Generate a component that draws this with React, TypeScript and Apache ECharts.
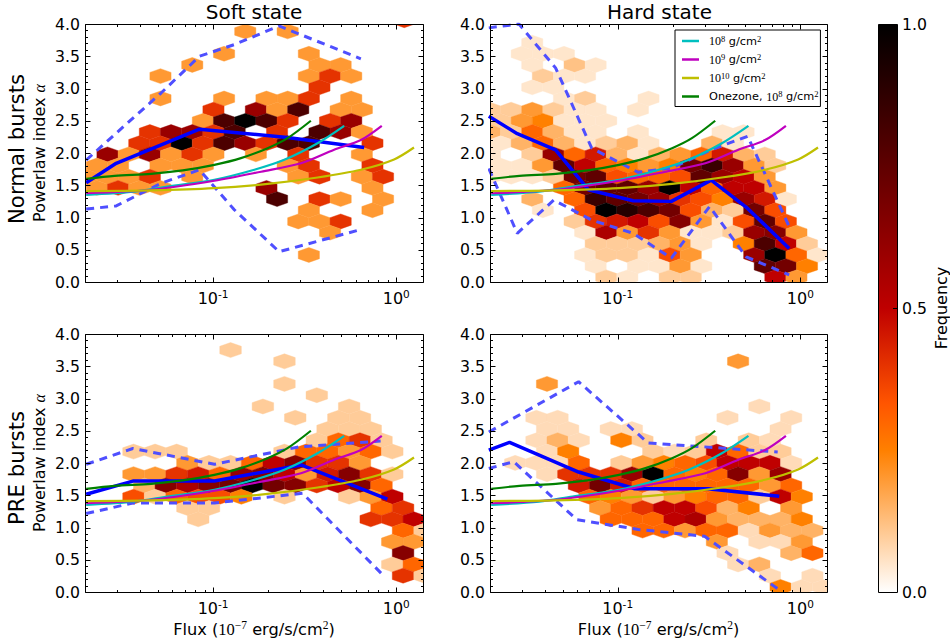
import React, { useEffect, useRef } from "react";
import * as echarts from "echarts";

// Hex bins: [column, row, frequency]
const softNormalHexes = [
  [15,20,.2],[19,20,.2],[30,21,.4],
  [13,18,.2],[21,18,.2],[10,17,.2],[22,17,.2],[24,17,.2],
  [7,16,.2],[21,16,.2],[23,16,.4],[25,16,.2],[22,15,.4],
  [7,14,.2],[13,14,.2],[17,14,.2],[19,14,.2],[21,14,.4],[25,14,.2],
  [12,13,.4],[16,13,.6],[18,13,.2],[20,13,.8],[24,13,.2],[26,13,.2],
  [11,12,.2],[13,12,.8],[15,12,1],[17,12,.8],[19,12,.4],[23,12,.4],[25,12,.6],
  [6,11,.4],[8,11,.6],[10,11,.6],[12,11,.4],[14,11,.8],[18,11,.4],[22,11,.8],[24,11,.6],[26,11,.2],
  [5,10,.4],[7,10,.4],[9,10,1],[11,10,.4],[13,10,.8],[15,10,.6],[17,10,.4],[19,10,.8],[21,10,.8],[27,10,.4],
  [2,9,.6],[4,9,.2],[6,9,.6],[8,9,.2],[10,9,.4],[12,9,.2],[16,9,.2],[20,9,.4],[26,9,.2],
  [1,8,.2],[3,8,.2],[7,8,.2],[9,8,.2],[11,8,.2],[19,8,.2],[21,8,.4],[27,8,.4],
  [0,7,.2],[2,7,.2],[4,7,.2],[6,7,.4],[10,7,.2],[20,7,.2],[22,7,.4],[26,7,.2],[28,7,.4],
  [1,6,.2],[3,6,.4],[5,6,.2],[7,6,.2],[17,6,.6],[27,6,.2],
  [18,5,.8],[22,5,.4],[24,5,.2],[28,5,.2],
  [21,4,.2],[27,4,.2],[20,3,.2],[22,3,.2],[24,3,.4],[23,2,.2],[21,0,.2],
];
const hardNormalHexes = [
  [4,19,.05],[3,18,.05],[5,18,.05],[7,18,.05],[4,17,.05],[8,17,.12],[10,17,.05],
  [5,16,.1],[7,16,.05],[9,16,.05],[4,15,.05],[6,15,.05],[7,14,.05],[9,14,.1],[15,14,.05],
  [0,13,.1],[2,13,.1],[4,13,.2],[6,13,.1],[8,13,.05],[10,13,.05],[14,13,.05],
  [1,12,.1],[3,12,.2],[5,12,.25],[7,12,.05],[9,12,.05],[11,12,.05],
  [0,11,.15],[2,11,.1],[4,11,.3],[6,11,.15],[8,11,.05],[10,11,.05],[14,11,.05],[22,11,.05],[24,11,.05],
  [1,10,.05],[3,10,.15],[5,10,.3],[7,10,.15],[9,10,.05],[11,10,.1],[13,10,.15],[15,10,.05],[21,10,.15],[23,10,.05],
  [0,9,.05],[4,9,.1],[6,9,.6],[8,9,.3],[10,9,.45],[12,9,.15],[14,9,.05],[16,9,.15],[18,9,.2],[20,9,.3],[22,9,.45],[24,9,.15],[26,9,.1],
  [1,8,.05],[3,8,.05],[5,8,.2],[7,8,.75],[9,8,.5],[11,8,.3],[13,8,.25],[15,8,.2],[17,8,.25],[19,8,.7],[21,8,.85],[23,8,.6],[25,8,.2],[27,8,.1],
  [0,7,.05],[2,7,.05],[4,7,.05],[6,7,.1],[8,7,.7],[10,7,.75],[12,7,.35],[14,7,.3],[16,7,.3],[18,7,.35],[20,7,.75],[22,7,.6],[24,7,.5],[26,7,.2],
  [7,6,.3],[9,6,.7],[11,6,.75],[13,6,.75],[15,6,.6],[17,6,1],[19,6,.5],[21,6,.3],[23,6,.5],[25,6,.5],[27,6,.2],
  [4,5,.15],[8,5,.3],[10,5,.85],[12,5,.75],[14,5,.7],[16,5,.6],[18,5,.4],[20,5,.35],[22,5,.25],[24,5,.6],[26,5,.45],[28,5,.05],
  [5,4,.05],[9,4,.35],[11,4,1],[13,4,.9],[15,4,.8],[17,4,.7],[19,4,.35],[21,4,.15],[23,4,.1],[25,4,.7],[27,4,.35],
  [8,3,.1],[10,3,.4],[12,3,.45],[14,3,.5],[16,3,.35],[18,3,.65],[20,3,.2],[22,3,.05],[24,3,.35],[26,3,.75],[28,3,.35],
  [9,2,.05],[11,2,.55],[13,2,.2],[15,2,.4],[17,2,.2],[19,2,.05],[21,2,.05],[23,2,.1],[25,2,.6],[27,2,.65],[29,2,.2],
  [10,1,.1],[12,1,.1],[14,1,.1],[16,1,.15],[18,1,.2],[20,1,.05],[24,1,.25],[26,1,.8],[28,1,.5],[30,1,.1],
  [9,0,.05],[11,0,.1],[13,0,.1],[15,0,.05],[17,0,.35],[19,0,.2],[25,0,.6],[27,0,1],[29,0,.3],[31,0,.05],
  [10,-1,.05],[14,-1,.05],[16,-1,.05],[18,-1,.2],[20,-1,.05],[26,-1,.75],[28,-1,.7],[30,-1,.25],
  [11,-2,.1],[13,-2,.05],[17,-2,.1],[19,-2,.1],[27,-2,.5],[29,-2,.2],
];
const softPreHexes = [
  [13,21,.1],[18,20,.1],[18,18,.1],[21,17,.1],[16,16,.1],[24,16,.1],
  [19,15,.1],[23,15,.1],[25,15,.1],[22,14,.1],[24,14,.1],[26,14,.1],
  [21,13,.1],[23,13,.3],[25,13,.4],[27,13,.1],
  [4,12,.1],[6,12,.1],[8,12,.1],[18,12,.1],[20,12,.3],[22,12,.3],[24,12,.2],[26,12,.3],[28,12,.1],
  [9,11,.2],[11,11,.1],[13,11,.1],[15,11,.3],[17,11,.5],[19,11,.65],[21,11,.4],[23,11,.4],[25,11,.2],
  [4,10,.2],[6,10,.2],[8,10,.4],[10,10,.45],[12,10,.3],[14,10,.6],[16,10,.65],[18,10,.5],[20,10,.2],[22,10,.45],[24,10,.65],[26,10,.4],[28,10,.1],
  [5,9,.15],[7,9,.65],[9,9,.55],[11,9,.65],[13,9,.7],[15,9,1],[17,9,.7],[19,9,.65],[21,9,.4],[23,9,.5],[25,9,.65],[27,9,.3],
  [4,8,.35],[6,8,.1],[8,8,.3],[10,8,.35],[12,8,.35],[14,8,.25],[18,8,.1],[24,8,.1],[26,8,.2],[28,8,.5],
  [9,7,.1],[11,7,.1],[27,7,.3],[29,7,.4],
  [10,6,.1],[26,6,.4],[28,6,.4],[30,6,.5],
  [29,5,.3],[31,5,.1],[28,4,.2],[30,4,.2],[29,3,.65],[28,2,.1],[30,2,.3],[29,1,.4],[31,1,.1],
];
const hardPreHexes = [
  [24,20,.2],[6,18,.2],[26,16,.07],[5,15,.07],[7,15,.07],[23,15,.07],[29,15,.07],
  [6,14,.07],[8,14,.07],[12,14,.07],[14,14,.07],[28,14,.07],
  [5,13,.07],[7,13,.15],[9,13,.07],[13,13,.25],[15,13,.1],[21,13,.1],[25,13,.1],[27,13,.07],
  [6,12,.07],[8,12,.25],[16,12,.1],[18,12,.07],[20,12,.1],[22,12,.5],[24,12,.3],[26,12,.1],[28,12,.1],
  [3,11,.07],[5,11,.07],[7,11,.07],[9,11,.3],[13,11,.1],[15,11,.2],[17,11,.25],[19,11,.3],[21,11,.35],[23,11,.5],[25,11,.5],[27,11,.5],[29,11,.07],
  [6,10,.07],[8,10,.4],[10,10,.4],[12,10,.4],[14,10,.6],[16,10,1],[18,10,.3],[20,10,.25],[22,10,.3],[24,10,.65],[26,10,.2],[28,10,.6],
  [9,9,.45],[11,9,.7],[13,9,.45],[15,9,.3],[17,9,.3],[19,9,.3],[21,9,.3],[23,9,.3],[25,9,.3],[27,9,.2],[29,9,.3],
  [10,8,.3],[12,8,.25],[14,8,.2],[16,8,.1],[18,8,.2],[20,8,.25],[22,8,.3],[24,8,.3],[26,8,.1],[28,8,.5],[30,8,.25],
  [11,7,.2],[13,7,.3],[15,7,.4],[17,7,.5],[19,7,.5],[21,7,.35],[23,7,.15],[25,7,.25],[29,7,.2],
  [12,6,.3],[14,6,.3],[16,6,.3],[18,6,.5],[20,6,.55],[22,6,.2],[24,6,.15],[26,6,.15],[28,6,.15],[30,6,.25],
  [15,5,.3],[17,5,.3],[19,5,.2],[21,5,.3],[23,5,.3],[25,5,.07],[27,5,.2],[29,5,.15],[31,5,.15],
  [22,4,.2],[26,4,.07],[28,4,.07],[30,4,.2],[23,3,.07],[29,3,.15],[31,3,.3],
  [24,2,.07],[26,2,.15],[27,1,.07],[31,1,.07],[28,0,.25],[30,0,.07],[32,0,.07],
];

// Model curves: [flux, alpha]
const model1e8 = [[.0203,1.35],[.0372,1.40],[.0566,1.48],[.1017,1.585],[.168,1.74],[.245,1.894],[.372,2.15],[.52,2.42]];
const model1e9 = [[.0203,1.376],[.0459,1.43],[.1017,1.57],[.183,1.71],[.302,1.84],[.458,2.05],[.641,2.20],[.834,2.42]];
const model1e10 = [[.0203,1.41],[.0459,1.42],[.1017,1.454],[.1986,1.52],[.372,1.62],[.641,1.74],[.973,1.90],[1.25,2.085]];
const modelOnezone = [[.0203,1.60],[.029,1.645],[.0459,1.677],[.0684,1.73],[.1017,1.816],[.142,1.92],[.1986,2.075],[.255,2.23],[.342,2.50]];

// Median and spread lines: [flux, alpha]
const softNormalMedian = [[.0203,1.54],[.0296,1.84],[.0843,2.37],[.255,2.24],[.668,2.085]];
const softNormalUpper = [[.0203,1.89],[.052,2.93],[.0843,3.50],[.1306,3.68],[.2296,3.97],[.641,3.46]];
const softNormalLower = [[.0203,1.13],[.0296,1.18],[.052,1.53],[.0843,1.74],[.1306,1.12],[.2296,.47],[.654,.82]];
const hardNormalMedian = [[.0197,2.57],[.0282,2.30],[.0457,2.05],[.0692,1.43],[.1216,1.26],[.1968,1.25],[.325,1.58],[.515,1.14],[.869,.52]];
const hardNormalUpper = [[.0197,3.94],[.0288,4.0],[.0457,3.32],[.0721,2.075],[.1297,1.70],[.1968,1.765],[.325,2.05],[.515,2.26],[.869,.86]];
const hardNormalLower = [[.0197,1.76],[.0282,.755],[.0447,1.27],[.0721,.96],[.1216,.755],[.1968,.37],[.3184,1.17],[.505,.39],[.869,.11]];
const softPreMedian = [[.0203,1.516],[.0365,1.72],[.1017,1.72],[.302,1.97],[.895,1.44]];
const softPreUpper = [[.0203,1.98],[.0365,2.225],[.1017,1.98],[.295,2.25],[.822,2.34]];
const softPreLower = [[.0203,1.216],[.0365,1.38],[.1017,1.38],[.308,1.53],[.841,.27]];
const hardPreMedian = [[.0197,2.2],[.0256,2.32],[.0611,1.86],[.1242,1.60],[.312,1.60],[.767,1.485]];
const hardPreUpper = [[.0197,2.48],[.0611,3.26],[.147,2.31],[.299,2.25],[.752,2.17]];
const hardPreLower = [[.0197,1.915],[.027,2.02],[.0598,1.12],[.1297,.97],[.299,.864],[.752,.05]];

// Tick values and labels
const xMin = 0.02, xMax = 1.4;
const xMinorTicks = [.02,.03,.04,.05,.06,.07,.08,.09,.2,.3,.4,.5,.6,.7,.8,.9];
const xMajorTicks = [.1,1];
const yMajorTicks = [0,.5,1,1.5,2,2.5,3,3.5,4];
const yMinorTicks = [.1,.2,.3,.4,.6,.7,.8,.9,1.1,1.2,1.3,1.4,1.6,1.7,1.8,1.9,2.1,2.2,2.3,2.4,2.6,2.7,2.8,2.9,3.1,3.2,3.3,3.4,3.6,3.7,3.8,3.9];

const FONT = "DejaVu Sans";
const SERIF = "Liberation Serif";
const nameOf = { m8: "10^8 g/cm^2", m9: "10^9 g/cm^2", m10: "10^10 g/cm^2", one: "Onezone, 10^8 g/cm^2" };

// gist_heat_r colour map
function heat(v: number) {
  const c = (t: number) => Math.round(255 * Math.max(0, Math.min(1, t)));
  return `rgb(${c(1.5 * (1 - v))},${c(1 - 2 * v)},${c(1 - 4 * v)})`;
}

const panels = [
  { hexes: softNormalHexes, median: softNormalMedian, upper: softNormalUpper, lower: softNormalLower,
    left: 85, top: 24, width: 338, log0: -1.692, dlog: .05786, a0: .419, da: .1733, yName: true, xName: false },
  { hexes: hardNormalHexes, median: hardNormalMedian, upper: hardNormalUpper, lower: hardNormalLower,
    left: 490, top: 24, width: 337, log0: -1.699, dlog: .05786, a0: .419, da: .1733, yName: false, xName: false },
  { hexes: softPreHexes, median: softPreMedian, upper: softPreUpper, lower: softPreLower,
    left: 85, top: 334, width: 338, log0: -1.6696, dlog: .05886, a0: .078, da: .1749, yName: true, xName: true },
  { hexes: hardPreHexes, median: hardPreMedian, upper: hardPreUpper, lower: hardPreLower,
    left: 490, top: 334, width: 337, log0: -1.7357, dlog: .05813, a0: .078, da: .1749, yName: false, xName: true },
];
const HEIGHT = 258;

function buildOption() {
  const grid: any[] = [];
  const xAxis: any[] = [];
  const yAxis: any[] = [];
  const series: any[] = [];

  const supRich = {
    b: { fontFamily: FONT, fontSize: 16, color: "#000" },
    s: { fontFamily: FONT, fontSize: 10.5, color: "#000", padding: [0, 0, 9, 0] },
  };

  panels.forEach((p, idx) => {
    grid.push({ left: p.left, top: p.top, width: p.width, height: HEIGHT });
    xAxis.push({
      type: "log", logBase: 10, gridIndex: idx, min: xMin, max: xMax,
      axisLine: { show: false }, axisTick: { show: false }, splitLine: { show: false },
      axisLabel: {
        margin: 6, showMinLabel: false, showMaxLabel: false, hideOverlap: false,
        formatter: (v: number) => {
          const e = Math.log10(v);
          if (Math.abs(e - Math.round(e)) > 1e-6) return "";
          return `{b|10}{s|${Math.round(e)}}`;
        },
        rich: supRich,
      },
      ...(p.xName ? {
        name: "Flux ({m|10}{s|\u22127} erg/s/cm{s|2})", nameLocation: "middle", nameGap: 27,
        nameTextStyle: {
          fontFamily: FONT, fontSize: 16.2, color: "#000",
          rich: {
            m: { fontFamily: SERIF, fontSize: 16.5, color: "#000" },
            s: { fontFamily: SERIF, fontSize: 11.5, color: "#000", padding: [0, 0, 8, 0] },
          },
        },
      } : {}),
    });
    yAxis.push({
      type: "value", gridIndex: idx, min: 0, max: 4, interval: .5,
      axisLine: { show: false }, axisTick: { show: false }, splitLine: { show: false },
      axisLabel: { margin: 5, fontFamily: FONT, fontSize: 15.7, color: "#000", formatter: (v: number) => v.toFixed(1) },
      ...(p.yName ? {
        name: "Powerlaw index {a|\u03b1}", nameLocation: "middle", nameGap: 38,
        nameTextStyle: {
          fontFamily: FONT, fontSize: 16, color: "#000",
          rich: { a: { fontFamily: SERIF, fontStyle: "italic", fontSize: 16, color: "#000" } },
        },
      } : {}),
    });

    const hexData = p.hexes.map(([i, k, v]) => [Math.pow(10, p.log0 + i * p.dlog), p.a0 + k * p.da, v]);
    series.push({
      type: "custom", xAxisIndex: idx, yAxisIndex: idx, clip: true, silent: true, z: 1,
      data: hexData, encode: { x: 0, y: 1 },
      renderItem: (_: any, api: any) => {
        const fx = api.value(0), a = api.value(1), v = api.value(2);
        const m = Math.pow(10, p.dlog);
        const pts = [
          [fx * m, a - p.da / 3], [fx * m, a + p.da / 3], [fx, a + 2 * p.da / 3],
          [fx / m, a + p.da / 3], [fx / m, a - p.da / 3], [fx, a - 2 * p.da / 3],
        ].map((q) => api.coord(q));
        const c = heat(v);
        return { type: "polygon", shape: { points: pts }, style: { fill: c, stroke: c, lineWidth: .4 } };
      },
    });

    const lineBase = { type: "line", xAxisIndex: idx, yAxisIndex: idx, showSymbol: false, symbol: "none", silent: true };
    const modelBase = { ...lineBase, z: 5, smooth: 0.3 };
    series.push({ ...lineBase, name: "upper", data: p.upper, z: 3, lineStyle: { color: "#4f4fff", width: 3, type: [8, 6] } });
    series.push({ ...lineBase, name: "lower", data: p.lower, z: 3, lineStyle: { color: "#4f4fff", width: 3, type: [8, 6] } });
    series.push({ ...lineBase, name: "median", data: p.median, z: 4, lineStyle: { color: "#0000ff", width: 3.5 } });
    series.push({ ...modelBase, name: nameOf.m8, data: model1e8, lineStyle: { color: "#00bfbf", width: 2.2 }, itemStyle: { color: "#00bfbf" } });
    series.push({ ...modelBase, name: nameOf.m9, data: model1e9, lineStyle: { color: "#bf00bf", width: 2.2 }, itemStyle: { color: "#bf00bf" } });
    series.push({ ...modelBase, name: nameOf.m10, data: model1e10, lineStyle: { color: "#bfbf00", width: 2.2 }, itemStyle: { color: "#bfbf00" } });
    series.push({ ...modelBase, name: nameOf.one, data: modelOnezone, lineStyle: { color: "#008000", width: 2.2 }, itemStyle: { color: "#008000" } });

    // frame and inward ticks on all four sides
    series.push({
      type: "custom", xAxisIndex: idx, yAxisIndex: idx, clip: false, silent: true, z: 6,
      data: [[xMin, 0]], encode: { x: 0, y: 1 },
      renderItem: (_: any, api: any) => {
        const [x0, y0] = api.coord([xMin, 0]);
        const [x1, y1] = api.coord([xMax, 4]);
        const X0 = Math.round(x0) + .5, X1 = Math.round(x1) + .5, Y0 = Math.round(y0) + .5, Y1 = Math.round(y1) + .5;
        const seg = (a: number, b: number, c: number, d: number) => ({
          type: "line", shape: { x1: a, y1: b, x2: c, y2: d }, style: { stroke: "#000", lineWidth: 1 },
        });
        const kids: any[] = [
          { type: "rect", shape: { x: X0, y: Y1, width: X1 - X0, height: Y0 - Y1 }, style: { fill: "none", stroke: "#000", lineWidth: 1 } },
        ];
        const xt = (v: number, len: number) => {
          const x = Math.round(api.coord([v, 0])[0]) + .5;
          kids.push(seg(x, Y0, x, Y0 - len), seg(x, Y1, x, Y1 + len));
        };
        const yt = (v: number, len: number) => {
          const y = Math.round(api.coord([xMin, v])[1]) + .5;
          kids.push(seg(X0, y, X0 + len, y), seg(X1, y, X1 - len, y));
        };
        xMajorTicks.forEach((v) => xt(v, 5));
        xMinorTicks.forEach((v) => xt(v, 2.5));
        yMajorTicks.forEach((v) => yt(v, 5));
        yMinorTicks.forEach((v) => yt(v, 2.5));
        return { type: "group", children: kids };
      },
    });
  });

  // colour bar
  const cb = panels.length;
  grid.push({ left: 878, top: 24, width: 21, height: 568 });
  xAxis.push({ type: "value", gridIndex: cb, min: 0, max: 1, show: false });
  yAxis.push({
    type: "value", gridIndex: cb, min: 0, max: 1, interval: .5, position: "right",
    axisLine: { show: false }, axisTick: { show: false }, splitLine: { show: false },
    axisLabel: { margin: 5, fontFamily: FONT, fontSize: 15.7, color: "#000", formatter: (v: number) => v.toFixed(1) },
    name: "Frequency", nameLocation: "middle", nameGap: 36, nameRotate: 90,
    nameTextStyle: { fontFamily: FONT, fontSize: 16, color: "#000" },
  });
  series.push({
    type: "custom", xAxisIndex: cb, yAxisIndex: cb, clip: false, silent: true,
    data: [[0, 0]], encode: { x: 0, y: 1 },
    renderItem: (_: any, api: any) => {
      const [x0, y0] = api.coord([0, 0]);
      const [x1, y1] = api.coord([1, 1]);
      const stops = [0, .25, 1 / 3, .5, 1].map((o) => ({ offset: o, color: heat(o) }));
      const y5 = Math.round(api.coord([0, .5])[1]) + .5;
      return {
        type: "group",
        children: [
          { type: "rect", shape: { x: x0 + .5, y: y1 + .5, width: x1 - x0, height: y0 - y1 },
            style: { fill: new echarts.graphic.LinearGradient(0, 1, 0, 0, stops), stroke: "#000", lineWidth: 1 } },
          { type: "line", shape: { x1: x1 + .5, y1: y5, x2: x1 - 4, y2: y5 }, style: { stroke: "#000", lineWidth: 1 } },
        ],
      };
    },
  });

  const sideLabel = (text: string, y: number) => ({
    type: "text", rotation: Math.PI / 2, x: 16, y, silent: true,
    style: { text, font: `21.3px '${FONT}'`, fill: "#000", align: "center", verticalAlign: "middle" },
  });

  const titleStyle = { fontFamily: FONT, fontSize: 20, fontWeight: "normal", color: "#000" };
  return {
    animation: false,
    backgroundColor: "#fff",
    title: [
      { text: "Soft state", left: 254, top: 2, padding: 0, textAlign: "center", textStyle: titleStyle },
      { text: "Hard state", left: 659.5, top: 2, padding: 0, textAlign: "center", textStyle: titleStyle },
    ],
    grid, xAxis, yAxis, series,
    graphic: [sideLabel("Normal bursts", 149), sideLabel("PRE bursts", 468)],
    legend: {
      left: 675, top: 30, orient: "vertical", z: 20,
      data: [nameOf.m8, nameOf.m9, nameOf.m10, nameOf.one],
      icon: "rect", itemWidth: 17, itemHeight: 2.5, itemGap: 5.5, padding: [4, 2, 4, 7],
      backgroundColor: "#fff", borderColor: "#000", borderWidth: 1, borderRadius: 0,
      selectedMode: false,
      formatter: (n: string) => {
        if (n === nameOf.m8) return "{m|10}{s|8} g/cm{s|2}";
        if (n === nameOf.m9) return "{m|10}{s|9} g/cm{s|2}";
        if (n === nameOf.m10) return "{m|10}{s|10} g/cm{s|2}";
        return "Onezone, {m|10}{s|8} g/cm{s|2}";
      },
      textStyle: {
        fontFamily: FONT, fontSize: 11.3, color: "#000", padding: [0, 0, 0, 5],
        rich: {
          m: { fontFamily: SERIF, fontSize: 12, color: "#000" },
          s: { fontFamily: SERIF, fontSize: 8.5, color: "#000", padding: [0, 0, 5, 0] },
        },
      },
    },
  };
}

export default function App() {
  const ref = useRef<HTMLDivElement>(null);
  useEffect(() => {
    document.body.style.margin = "0";
    const chart = echarts.init(ref.current!, null, { renderer: "svg" });
    chart.setOption(buildOption() as any);
    return () => chart.dispose();
  }, []);
  return <div ref={ref} style={{ width: 950, height: 643 }} />;
}
